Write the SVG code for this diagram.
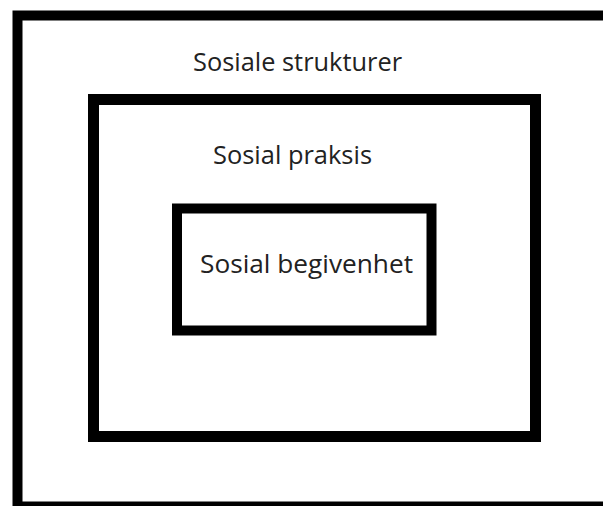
<svg xmlns="http://www.w3.org/2000/svg" width="603" height="506" viewBox="0 0 603 506">
<style>
.box{fill:none;stroke:#000;}
.lbl{font-family:"Open Sans","Noto Sans","Liberation Sans",sans-serif;font-size:26px;fill:#222;}
</style>
<rect width="603" height="506" fill="#fff"/>
<g id="sosiale-strukturer">
<rect class="box" x="17.5" y="15.5" width="620" height="491" stroke-width="10"/>
<text class="lbl" x="193" y="71" textLength="209" lengthAdjust="spacingAndGlyphs">Sosiale strukturer</text>
</g>
<g id="sosial-praksis">
<rect class="box" x="93.5" y="99.5" width="442" height="337" stroke-width="11"/>
<text class="lbl" x="213" y="164" textLength="159" lengthAdjust="spacingAndGlyphs">Sosial praksis</text>
</g>
<g id="sosial-begivenhet">
<rect class="box" x="177" y="208.5" width="254.5" height="122" stroke-width="10"/>
<text class="lbl" x="200" y="273" textLength="213" lengthAdjust="spacingAndGlyphs">Sosial begivenhet</text>
</g>
<g id="connectors"></g>
</svg>
